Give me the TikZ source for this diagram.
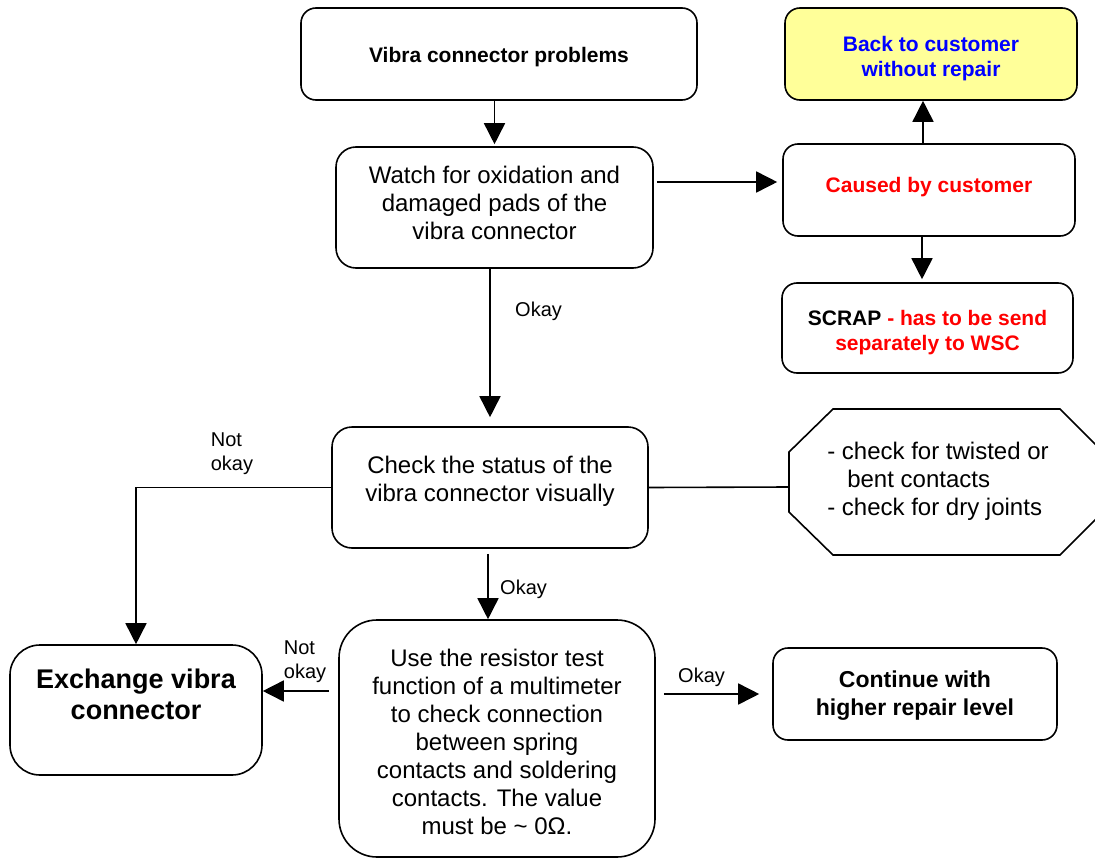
\documentclass[tikz,border=0pt]{standalone}
\usepackage{fontspec}
\setmainfont{Liberation Sans}
\usetikzlibrary{arrows.meta}
\definecolor{paleyellow}{RGB}{255,255,153}
\definecolor{pureblue}{RGB}{0,0,255}
\definecolor{purered}{RGB}{255,0,0}

\begin{document}
\begin{tikzpicture}[x=1pt,y=-1pt,
  box/.style={draw, line width=1.6pt, rounded corners=#1, inner sep=0pt, fill=white},
  box/.default=15pt,
  conn/.style={line width=1.6pt, -{Triangle[length=21pt,width=21pt]}},
  plain/.style={line width=1.6pt},
  lbl/.style={font=\fontsize{20}{24}\selectfont, inner sep=0pt, align=left},
  reg/.style={font=\fontsize{24}{28}\selectfont, align=center, inner sep=0pt},
  bld/.style={font=\bfseries\fontsize{21}{25}\selectfont, align=center, inner sep=0pt},
]
\useasboundingbox (0,0) rectangle (1095,859);
\begin{scope}
\clip (0,0) rectangle (1095,859);

% ---- boxes ----
\node[box] (b1) at (499,54) [minimum width=396pt, minimum height=92pt] {};
\node[box=20pt] (b2) at (494.5,207.5) [minimum width=317pt, minimum height=121pt] {};
\node[box, fill=paleyellow] (back) at (931,54) [minimum width=292pt, minimum height=92pt] {};
\node[box] (cau) at (929,190) [minimum width=292pt, minimum height=92pt] {};
\node[box] (scrap) at (927.5,328) [minimum width=291pt, minimum height=90pt] {};
\node[box=20pt] (b3) at (490,487.5) [minimum width=316pt, minimum height=121pt] {};
\node[box=38pt] (b4) at (497,738.5) [minimum width=316pt, minimum height=237pt] {};
\node[box=30pt] (ex) at (136,710) [minimum width=252pt, minimum height=130pt] {};
\node[box] (cont) at (915,694) [minimum width=284pt, minimum height=92pt] {};

% octagon with the visual checks
\draw[plain, fill=white] (789,452) -- (833,409) -- (1060,409) -- (1103,452)
  -- (1103,512) -- (1060,555) -- (833,555) -- (789,512) -- cycle;
\coordinate (oct-w) at (789,487);

% ---- texts ----
\node[bld] (b1-t) at (499,57) {Vibra connector problems};
\node[reg] (b2-t) at (494.5,203) {Watch for oxidation and\\damaged pads of the\\vibra connector};
\node[bld, text=pureblue] (back-t) at (931,58.5) {Back to customer\\without repair};
\node[bld, text=purered] (cau-t) at (929,187) {Caused by customer};
\node[bld, text=purered] (scrap-t) at (927.5,332.5) {\textcolor{black}{SCRAP} - has to be send\\separately to WSC};
\node[reg] (b3-t) at (490,481) {Check the status of the\\vibra connector visually};
\node[reg, align=left] (oct-t) at (938,481) {- check for twisted or\\\hspace*{20pt}bent contacts\\- check for dry joints};
\node[reg] (b4-t) at (497,741.5) {Use the resistor test\\function of a multimeter\\to check connection\\between spring\\contacts and soldering\\contacts. The value\\must be \textasciitilde{} 0Ω.};
\node[bld, font=\bfseries\fontsize{27}{31}\selectfont] (ex-t) at (136,694.5) {Exchange vibra\\connector};
\node[bld, font=\bfseries\fontsize{23}{28}\selectfont] (cont-t) at (915,696) {Continue with\\higher repair level};

% ---- connectors ----
\draw[conn, shorten >=2pt] (b2.north |- b1.south) -- (b2.north);
\coordinate (cau-in) at ([yshift=8pt]cau.west);
\draw[conn, shorten <=3pt, shorten >=5pt] (b2.east |- cau-in) -- (cau-in);
\draw[conn] (cau.north) ++(-6,0) coordinate (cau-up) -- (cau-up |- back.south);
\draw[conn, shorten >=3pt] (cau.south) ++(-7,0) coordinate (cau-dn) -- (cau-dn |- scrap.north);

\draw[conn, shorten >=9pt] (b3.north |- b2.south) -- (b3.north);
\node[lbl, anchor=west] (ok1) at (515,311) {Okay};

\draw[conn] (b3.west) -| (ex.north);
\node[lbl] (nok1) at (232,454) {Not\\okay};
\draw[plain] (b3.east) -- (oct-w);

\draw[conn, shorten <=5pt] ([xshift=-2pt]b3.south) -- ([xshift=-2pt]b3.south |- b4.north);
\node[lbl, anchor=west] (ok2) at (500,589) {Okay};

\coordinate (ex-in) at ([yshift=19pt]ex.east);
\draw[conn, shorten <=9pt] (b4.west |- ex-in) -- (ex-in);
\node[lbl] (nok2) at (305,662) {Not\\okay};

\draw[conn, shorten <=8pt, shorten >=13pt] (b4.east |- cont.west) -- (cont.west);
\node[lbl, anchor=west] (ok3) at (678,677) {Okay};
\end{scope}
\end{tikzpicture}
\end{document}
